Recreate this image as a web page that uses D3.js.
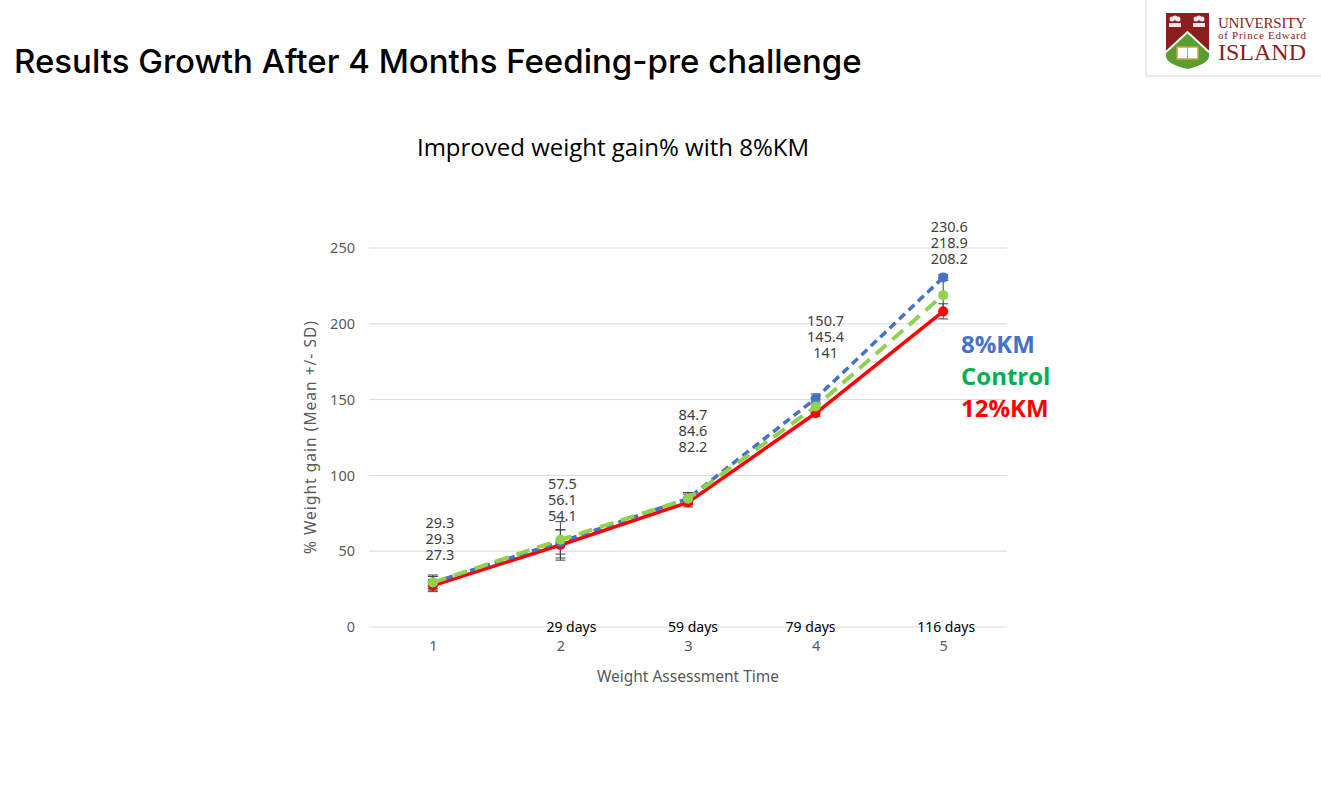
<!DOCTYPE html>
<html>
<head>
<meta charset="utf-8">
<script src="https://cdn.jsdelivr.net/npm/d3@7"></script>
<style>
  body { margin: 0; background: #fff; }
  svg { display: block; }
</style>
</head>
<body>
<script>
// data
var timePoints = [1, 2, 3, 4, 5];
var dayLabels = ["", "29 days", "59 days", "79 days", "116 days"];
var km8 = [29.3, 56.1, 84.7, 150.7, 230.6];
var control = [29.3, 57.5, 84.6, 145.4, 218.9];
var km12 = [27.3, 54.1, 82.2, 141, 208.2];
var km8Sd = [4, 8, 4, 3, 2];
var controlSd = [5, 12, 3, 3, 11];
var km12Sd = [4, 10, 3, 2, 5];
var yTicks = [0, 50, 100, 150, 200, 250];

var series = [
    { name: "12%KM", values: km12, sd: km12Sd, color: "#ff0000", dash: null, width: 3.5, legend: "#ff0000" },
    { name: "8%KM", values: km8, sd: km8Sd, color: "#4472c4", dash: "8,5", width: 3.5, legend: "#4472c4" },
    { name: "Control", values: control, sd: controlSd, color: "#92d050", dash: "14,8", width: 4, legend: "#00b050" }
];

var W = 1321, H = 796;
var svg = d3.select("body").append("svg")
    .attr("width", W)
    .attr("height", H);

// slide title
svg.append("text")
    .attr("x", 14)
    .attr("y", 73)
    .style("font-family", "Inter, 'Noto Sans', sans-serif")
    .style("font-size", "33px")
    .style("font-weight", 500)
    .attr("fill", "#000")
    .text("Results Growth After 4 Months Feeding-pre challenge");

// logo box
var logo = svg.append("g");
logo.append("rect")
    .attr("x", 1146).attr("y", -2)
    .attr("width", 178).attr("height", 78)
    .attr("fill", "#fff")
    .attr("stroke", "#d8d8d8");
logo.append("path")
    .attr("d", "M1166,13 L1209,13 L1209,52 L1187.5,32 L1166,52 Z")
    .attr("fill", "#8b1e1e");
logo.append("path")
    .attr("d", "M1166,52 L1187.5,32 L1209,52 L1209,56 Q1209,64 1187.5,69 Q1166,64 1166,56 Z")
    .attr("fill", "#5a9e2f");
logo.append("path")
    .attr("d", "M1166,52 L1187.5,32 L1209,52")
    .attr("fill", "none")
    .attr("stroke", "#fff")
    .attr("stroke-width", 2);
logo.append("rect")
    .attr("x", 1177).attr("y", 47).attr("width", 21).attr("height", 12)
    .attr("fill", "#fff").attr("stroke", "#c9a441").attr("stroke-width", 1.5);
logo.append("line")
    .attr("x1", 1187.5).attr("x2", 1187.5).attr("y1", 47).attr("y2", 59)
    .attr("stroke", "#c9a441").attr("stroke-width", 1);
[1175, 1199].forEach(function(cx) {
    logo.append("circle").attr("cx", cx - 3).attr("cy", 19).attr("r", 2.5).attr("fill", "#f2e6e6");
    logo.append("circle").attr("cx", cx).attr("cy", 18).attr("r", 2.5).attr("fill", "#f2e6e6");
    logo.append("circle").attr("cx", cx + 3).attr("cy", 19).attr("r", 2.5).attr("fill", "#f2e6e6");
    logo.append("rect").attr("x", cx - 6).attr("y", 23).attr("width", 12).attr("height", 4).attr("fill", "#f2e6e6");
});
logo.append("text")
    .attr("x", 1218).attr("y", 28)
    .style("font-family", "'Liberation Serif', serif")
    .style("font-size", "15px")
    .attr("fill", "#8b1e1e")
    .attr("textLength", 88)
    .text("UNIVERSITY");
logo.append("text")
    .attr("x", 1218).attr("y", 39)
    .style("font-family", "'Liberation Serif', serif")
    .style("font-size", "11px")
    .attr("fill", "#8b1e1e")
    .attr("textLength", 88)
    .text("of Prince Edward");
logo.append("text")
    .attr("x", 1218).attr("y", 60)
    .style("font-family", "'Liberation Serif', serif")
    .style("font-size", "24px")
    .attr("fill", "#8b1e1e")
    .attr("textLength", 88)
    .text("ISLAND");

// chart title
svg.append("text")
    .attr("x", 613)
    .attr("y", 156)
    .attr("text-anchor", "middle")
    .style("font-family", "'Open Sans', sans-serif")
    .style("font-size", "24px")
    .attr("fill", "#000")
    .text("Improved weight gain% with 8%KM");

var x = d3.scaleLinear().domain([0.5, 5.5]).range([369, 1007]);
var y = d3.scaleLinear().domain([0, 250]).range([627, 248]);

var axisFont = "'Noto Sans', 'Open Sans', sans-serif";
var grey = "#595959";

// gridlines
svg.append("g")
    .selectAll("line")
    .data(yTicks)
    .join("line")
    .attr("x1", x(0.5)).attr("x2", x(5.5))
    .attr("y1", function(d) { return y(d); })
    .attr("y2", function(d) { return y(d); })
    .attr("stroke", "#d9d9d9")
    .attr("stroke-width", 1);

// y axis
var yAxis = svg.append("g")
    .attr("transform", "translate(" + (x(0.5) - 14) + ",0)")
    .call(d3.axisLeft(y).tickValues(yTicks).tickSize(0).tickPadding(0));
yAxis.select(".domain").remove();
yAxis.selectAll("text")
    .style("font-family", axisFont)
    .style("font-size", "14.5px")
    .attr("fill", grey);

// x axis
var xAxis = svg.append("g")
    .attr("transform", "translate(0," + (y(0) + 14) + ")")
    .call(d3.axisBottom(x).tickValues(timePoints).tickFormat(d3.format("d")).tickSize(0).tickPadding(0));
xAxis.select(".domain").remove();
xAxis.selectAll("text")
    .style("font-family", axisFont)
    .style("font-size", "14.5px")
    .attr("fill", grey);

// axis titles
svg.append("text")
    .attr("transform", "translate(316," + y(125) + ") rotate(-90)")
    .attr("text-anchor", "middle")
    .style("font-family", axisFont)
    .style("font-size", "15.5px")
    .attr("fill", grey)
    .attr("textLength", 233)
    .text("% Weight gain (Mean +/- SD)");
svg.append("text")
    .attr("x", x(3))
    .attr("y", 682)
    .attr("text-anchor", "middle")
    .style("font-family", axisFont)
    .style("font-size", "15.5px")
    .attr("fill", grey)
    .text("Weight Assessment Time");

// day labels sitting on the zero line
var dayShift = [0, 11, 5, -5, 3];
svg.append("g")
    .selectAll("text")
    .data(timePoints)
    .join("text")
    .attr("x", function(d, i) { return x(d) + dayShift[i]; })
    .attr("y", y(0) + 5)
    .attr("text-anchor", "middle")
    .style("font-family", axisFont)
    .style("font-size", "14px")
    .attr("fill", "#000")
    .text(function(d, i) { return dayLabels[i]; });

// error bars
series.forEach(function(s) {
    var g = svg.append("g");
    timePoints.forEach(function(t, i) {
        var cx = x(t), lo = y(s.values[i] - s.sd[i]), hi = y(s.values[i] + s.sd[i]);
        g.append("line").attr("x1", cx).attr("x2", cx).attr("y1", lo).attr("y2", hi)
            .attr("stroke", "#404040").attr("stroke-width", 1);
        [lo, hi].forEach(function(yy) {
            g.append("line").attr("x1", cx - 5).attr("x2", cx + 5).attr("y1", yy).attr("y2", yy)
                .attr("stroke", "#404040").attr("stroke-width", 1);
        });
    });
});

// lines and markers
var line = d3.line()
    .x(function(d, i) { return x(timePoints[i]); })
    .y(function(d) { return y(d); });

series.forEach(function(s) {
    svg.append("path")
        .datum(s.values)
        .attr("d", line)
        .attr("fill", "none")
        .attr("stroke", s.color)
        .attr("stroke-width", s.width)
        .attr("stroke-dasharray", s.dash);
    svg.append("g")
        .selectAll("circle")
        .data(s.values)
        .join("circle")
        .attr("cx", function(d, i) { return x(timePoints[i]); })
        .attr("cy", function(d) { return y(d); })
        .attr("r", 5)
        .attr("fill", s.color);
});

// stacked value labels above each point
var labelTop = [523, 484, 415, 321, 227];
var labelShift = [7, 2, 5, 10, 6];
timePoints.forEach(function(t, i) {
    var vals = [control[i], km8[i], km12[i]].sort(function(a, b) { return b - a; });
    svg.append("g")
        .selectAll("text")
        .data(vals)
        .join("text")
        .attr("x", x(t) + labelShift[i])
        .attr("y", function(d, j) { return labelTop[i] + j * 16 + 5; })
        .attr("text-anchor", "middle")
        .style("font-family", axisFont)
        .style("font-size", "14.5px")
        .attr("fill", "#404040")
        .text(function(d) { return d; });
});

// legend as coloured words
var legendRows = [series[1], series[2], series[0]];
svg.append("g")
    .selectAll("text")
    .data(legendRows)
    .join("text")
    .attr("x", 961)
    .attr("y", function(d, i) { return 353 + i * 32; })
    .style("font-family", "'Open Sans', sans-serif")
    .style("font-size", "24px")
    .style("font-weight", 700)
    .attr("fill", function(d) { return d.legend; })
    .text(function(d) { return d.name; });
</script>
</body>
</html>
